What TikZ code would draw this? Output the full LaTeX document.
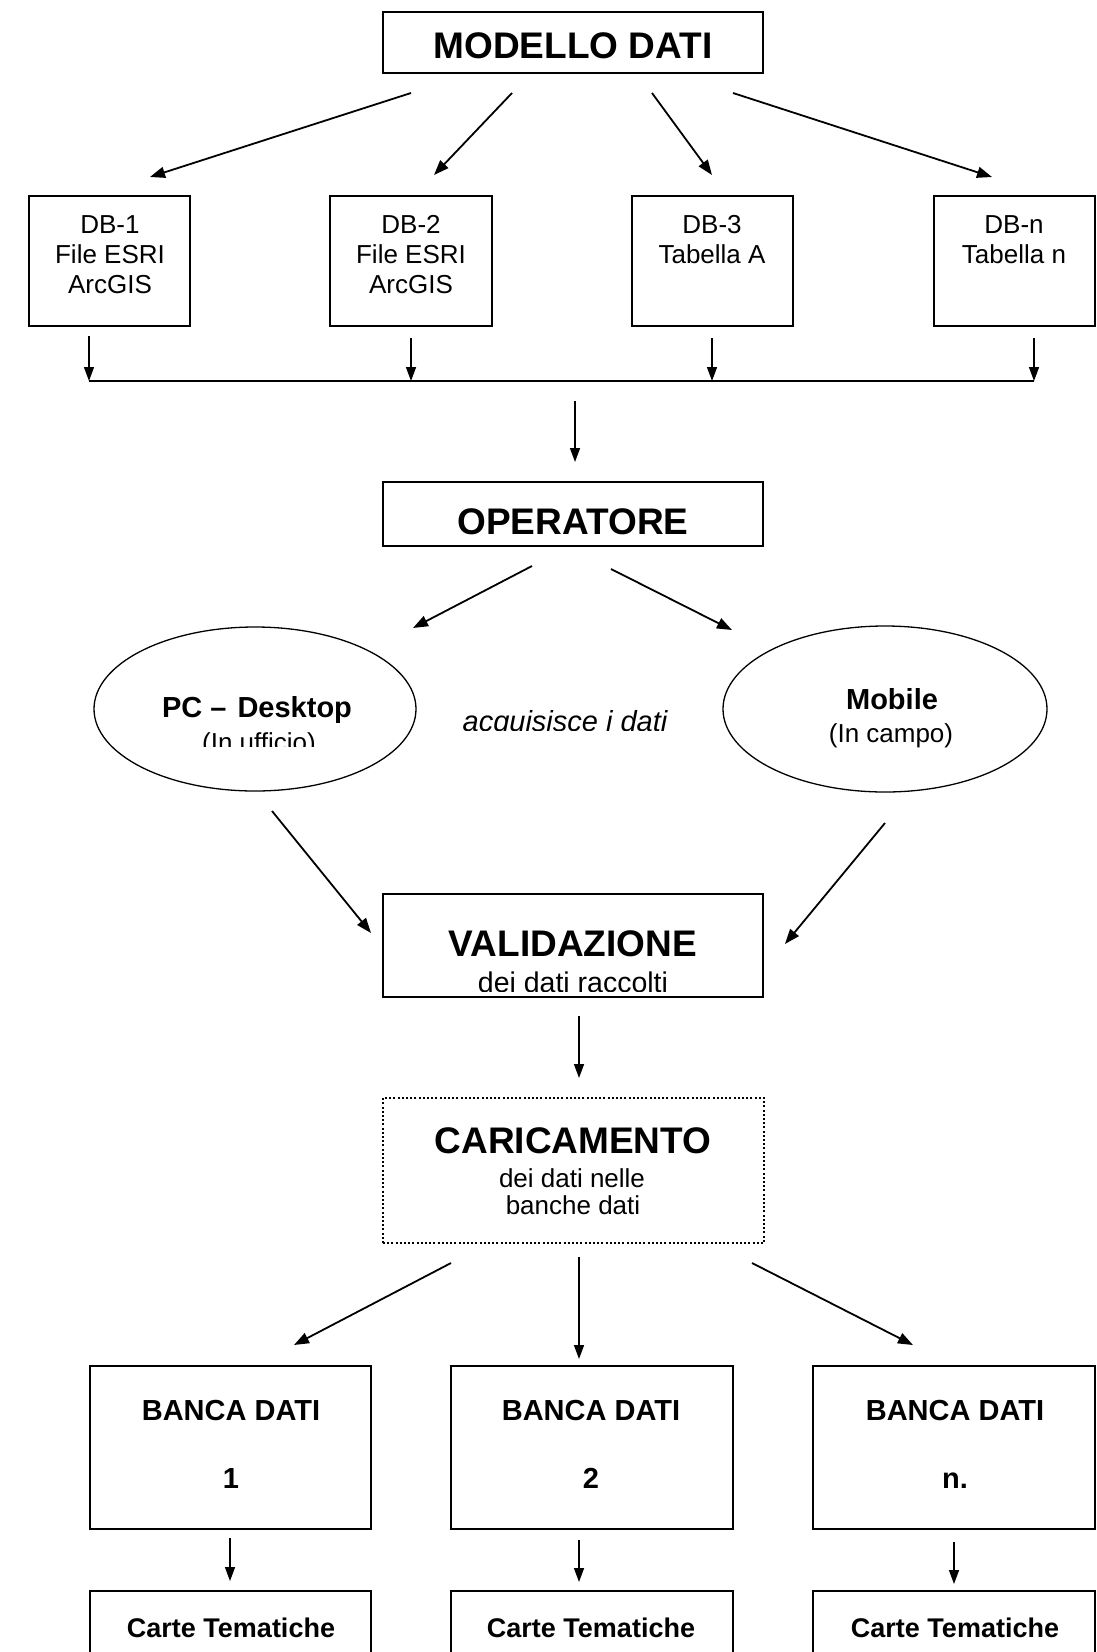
\documentclass[tikz,border=0pt]{standalone}
\usepackage{fontspec}
\setmainfont{Liberation Sans}
\usetikzlibrary{arrows.meta,shapes.geometric}
\newcommand{\fsz}[1]{\fontsize{#1}{#1}\selectfont}
\begin{document}
\begin{tikzpicture}[x=1pt,y=-1pt,
  boxst/.style={draw, line width=1.8pt, rectangle, inner sep=0pt, outer sep=0pt},
  dotbox/.style={boxst, dash pattern=on 2pt off 2.2pt},
  ellst/.style={draw, ellipse, line width=1.3pt, inner sep=0pt, outer sep=0pt},
  txt/.style={anchor=base, inner sep=0pt, outer sep=0pt},
  ttl/.style={txt, font=\fsz{37}\bfseries},
  reg/.style={txt, font=\fsz{26}},
  arr/.style={line width=1.8pt, -{Triangle[length=15pt,width=11pt]}},
  sarr/.style={line width=1.5pt, -{Triangle[length=14pt,width=10pt]}}
]
\useasboundingbox (0,0) rectangle (1097,1652);
\clip (0,0) rectangle (1097,1652);

% ---------- boxes ----------
\node[boxst, minimum width=380pt, minimum height=61pt] (modello) at (573,42.5) {};
\node[boxst, minimum width=161pt, minimum height=130pt] (db1) at (109.5,261) {};
\node[boxst, minimum width=162pt, minimum height=130pt] (db2) at (411,261) {};
\node[boxst, minimum width=161pt, minimum height=130pt] (db3) at (712.5,261) {};
\node[boxst, minimum width=161pt, minimum height=130pt] (dbn) at (1014.5,261) {};
\node[boxst, minimum width=380pt, minimum height=64pt] (operatore) at (573,514) {};
\node[ellst, minimum width=322pt, minimum height=164pt] (pc) at (255,709) {};
\node[ellst, minimum width=324pt, minimum height=166pt] (mobile) at (885,709) {};
\node[boxst, minimum width=380pt, minimum height=103pt] (valid) at (573,945.5) {};
\node[dotbox, minimum width=381pt, minimum height=145pt] (carica) at (573.5,1170.5) {};
\node[boxst, minimum width=281pt, minimum height=163pt] (banca1) at (230.5,1447.5) {};
\node[boxst, minimum width=282pt, minimum height=163pt] (banca2) at (592,1447.5) {};
\node[boxst, minimum width=282pt, minimum height=163pt] (bancan) at (954,1447.5) {};
\node[boxst, minimum width=281pt, minimum height=120pt] (carte1) at (230.5,1651) {};
\node[boxst, minimum width=282pt, minimum height=120pt] (carte2) at (592,1651) {};
\node[boxst, minimum width=282pt, minimum height=120pt] (carten) at (954,1651) {};

% ---------- texts ----------
\node[ttl] (tmod) at (573,58) {MODELLO DATI};
\node[reg] (t1a) at (110,233) {DB-1};
\node[reg] (t1b) at (110,263) {File ESRI};
\node[reg] (t1c) at (110,293) {ArcGIS};
\node[reg] (t2a) at (411,233) {DB-2};
\node[reg] (t2b) at (411,263) {File ESRI};
\node[reg] (t2c) at (411,293) {ArcGIS};
\node[reg] (t3a) at (712,233) {DB-3};
\node[reg] (t3b) at (712,263) {Tabella A};
\node[reg] (tna) at (1014,233) {DB-n};
\node[reg] (tnb) at (1014,263) {Tabella n};
\node[ttl] (top) at (573,534) {OPERATORE};
\node[txt, font=\fsz{29}\bfseries] (tpc) at (257,717) {PC –\hspace{3pt} Desktop};
\begin{scope}
  \clip (150,720) rectangle (380,746);
  \node[txt, font=\fsz{26}] (tpcb) at (259,751) {(In ufficio)};
\end{scope}
\begin{scope}
  \clip (440,690) rectangle (700,730);
  \node[txt, font=\fsz{29}\itshape] (tacq) at (565,731) {acquisisce i dati};
\end{scope}
\node[txt, font=\fsz{29}\bfseries] (tmob) at (892,709) {Mobile};
\node[txt, font=\fsz{26}] (tmobb) at (891,742) {(In campo)};
\node[ttl] (tval) at (573,956) {VALIDAZIONE};
\begin{scope}
  \clip (440,960) rectangle (700,991);
  \node[txt, font=\fsz{28.5}] (tvalb) at (573,992) {dei dati raccolti};
\end{scope}
\node[ttl] (tcar) at (573,1153) {CARICAMENTO};
\node[txt, font=\fsz{26}] (tcarb) at (572,1187) {dei dati nelle};
\node[txt, font=\fsz{26}] (tcarc) at (573,1214) {banche dati};
\node[txt, font=\fsz{29}\bfseries] (tb1) at (231,1420) {BANCA DATI};
\node[txt, font=\fsz{29}\bfseries] (tb2) at (591,1420) {BANCA DATI};
\node[txt, font=\fsz{29}\bfseries] (tbn) at (955,1420) {BANCA DATI};
\node[txt, font=\fsz{29}\bfseries] (tn1) at (231,1488) {1};
\node[txt, font=\fsz{29}\bfseries] (tn2) at (591,1488) {2};
\node[txt, font=\fsz{29}\bfseries] (tnn) at (955,1488) {n.};
\node[txt, font=\fsz{27}\bfseries] (tc1) at (231,1637) {Carte Tematiche};
\node[txt, font=\fsz{27}\bfseries] (tc2) at (591,1637) {Carte Tematiche};
\node[txt, font=\fsz{27}\bfseries] (tcn) at (955,1637) {Carte Tematiche};

% ---------- connector end points ----------
\coordinate (a1s) at (411,93);  \coordinate (a1e) at (150,177);
\coordinate (a2s) at (512,93);  \coordinate (a2e) at (434,175);
\coordinate (a3s) at (652,93);  \coordinate (a3e) at (712,175);
\coordinate (a4s) at (733,93);  \coordinate (a4e) at (992,177);
\coordinate (d1s) at (89,336);   \coordinate (d1e) at (89,381);
\coordinate (d2s) at (411,338);  \coordinate (d2e) at (411,381);
\coordinate (d3s) at (712,338);  \coordinate (d3e) at (712,381);
\coordinate (d4s) at (1034,338); \coordinate (d4e) at (1034,381);
\coordinate (busL) at (89,381);  \coordinate (busR) at (1034,381);
\coordinate (bs) at (575,401);   \coordinate (be) at (575,462);
\coordinate (o1s) at (532,566);  \coordinate (o1e) at (413,628);
\coordinate (o2s) at (611,569);  \coordinate (o2e) at (732,630);
\coordinate (p1s) at (272,811);  \coordinate (p1e) at (371,933);
\coordinate (p2s) at (885,823);  \coordinate (p2e) at (785,944);
\coordinate (vs) at (579,1016);  \coordinate (ve) at (579,1078);
\coordinate (c1s) at (451,1263); \coordinate (c1e) at (294,1345);
\coordinate (c2s) at (579,1257); \coordinate (c2e) at (579,1359);
\coordinate (c3s) at (752,1263); \coordinate (c3e) at (913,1345);
\coordinate (k1s) at (230,1538); \coordinate (k1e) at (230,1581);
\coordinate (k2s) at (579,1540); \coordinate (k2e) at (579,1582);
\coordinate (k3s) at (954,1542); \coordinate (k3e) at (954,1584);

% ---------- connectors ----------
\draw[arr] (a1s) -- (a1e);
\draw[arr] (a2s) -- (a2e);
\draw[arr] (a3s) -- (a3e);
\draw[arr] (a4s) -- (a4e);
\draw[sarr] (d1s) -- (d1e);
\draw[sarr] (d2s) -- (d2e);
\draw[sarr] (d3s) -- (d3e);
\draw[sarr] (d4s) -- (d4e);
\draw[line width=1.8pt] (busL) -- (busR);
\draw[sarr] (bs) -- (be);
\draw[arr] (o1s) -- (o1e);
\draw[arr] (o2s) -- (o2e);
\draw[arr] (p1s) -- (p1e);
\draw[arr] (p2s) -- (p2e);
\draw[sarr] (vs) -- (ve);
\draw[arr] (c1s) -- (c1e);
\draw[sarr] (c2s) -- (c2e);
\draw[arr] (c3s) -- (c3e);
\draw[sarr] (k1s) -- (k1e);
\draw[sarr] (k2s) -- (k2e);
\draw[sarr] (k3s) -- (k3e);
\end{tikzpicture}
\end{document}
